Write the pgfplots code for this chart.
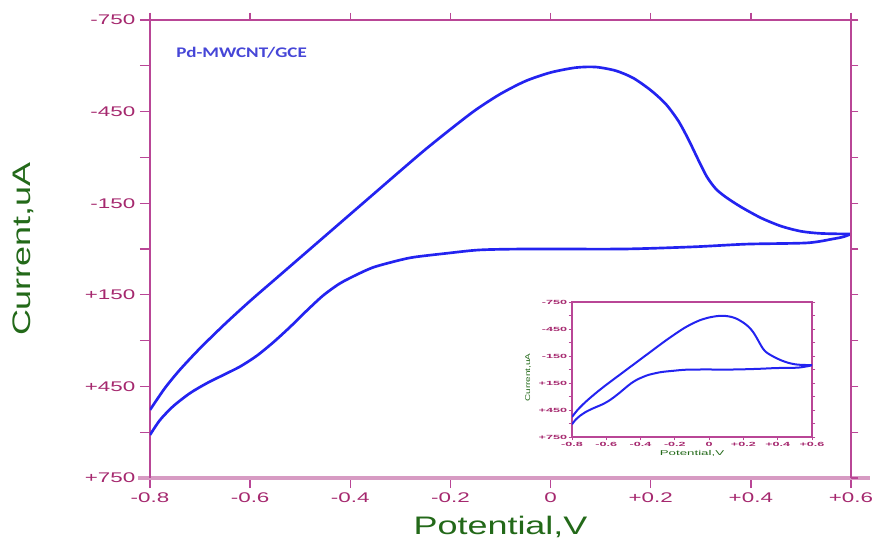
\documentclass[border=0pt]{standalone}
\usepackage{fontspec}
\setmainfont{Liberation Sans}
\newfontfamily\labfont[FakeStretch=1.42]{Liberation Sans}
\newfontfamily\titfont[FakeStretch=1.3]{Carlito}
\usepackage{graphicx}
\usepackage{pgfplots}
\usepackage{pgfplotstable}
\pgfplotsset{compat=1.18}
\newcommand\tk[1]{\scalebox{1.6}[1]{#1}}
\newcommand\itk[1]{\scalebox{2.1}[1]{#1}}
\definecolor{axcol}{RGB}{185,70,150}
\definecolor{bandcol}{RGB}{215,155,195}
\definecolor{tickcol}{RGB}{165,40,110}
\definecolor{labcol}{RGB}{35,105,25}
\definecolor{curvecol}{RGB}{35,35,240}
\definecolor{titcol}{RGB}{70,70,215}

\pgfplotstableread{
V I
-0.800 527
-0.770 455
-0.740 395
-0.700 325
-0.650 245
-0.600 170
-0.550 99
-0.500 28
-0.450 -43
-0.400 -114
-0.350 -185
-0.300 -256
-0.250 -326
-0.200 -392
-0.150 -455
-0.100 -508
-0.050 -550
0.000 -578
0.050 -594
0.090 -596
0.130 -584
0.165 -560
0.200 -520
0.230 -475
0.255 -420
0.275 -360
0.295 -292
0.312 -237
0.330 -197
0.350 -170
0.380 -138
0.420 -102
0.460 -75
0.500 -58
0.540 -51
0.600 -49
}\cvupper

\pgfplotstableread{
V I
0.600 -49
0.585 -40
0.564 -33
0.512 -20
0.392 -16
0.284 -7
0.145 0
-0.047 0
-0.141 3
-0.207 14
-0.274 27
-0.310 40
-0.354 60
-0.387 84
-0.421 113
-0.454 152
-0.487 202
-0.520 255
-0.554 306
-0.587 350
-0.620 385
-0.654 413
-0.687 440
-0.720 472
-0.753 514
-0.780 560
-0.800 609
}\cvlower

\begin{document}
\begin{tikzpicture}
% main axis
\begin{axis}[
  at={(0,0)}, anchor=south west,
  scale only axis, width=525.75pt, height=343.5pt,
  xmin=-0.8, xmax=0.6, ymin=-750, ymax=750, y dir=reverse,
  axis x line*=bottom, axis y line*=left,
  x axis line style={bandcol, line width=3pt, shorten <=-9pt, shorten >=-14pt},
  y axis line style={axcol, line width=1.1pt},
  xtick={-0.8,-0.6,-0.4,-0.2,0,0.2,0.4,0.6},
  xticklabels={\tk{-0.8},\tk{-0.6},\tk{-0.4},\tk{-0.2},\tk{0},\tk{+0.2},\tk{+0.4},\tk{+0.6}},
  ytick={-750,-600,-450,-300,-150,0,150,300,450,600,750},
  yticklabels={\tk{-750},,\tk{-450},,\tk{-150},,\tk{+150},,\tk{+450},,\tk{+750}},
  tick align=outside, major tick length=7.5pt,
  tick style={axcol, line width=1pt},
  ticklabel style={font=\fontsize{10.5}{12}\selectfont, text=tickcol},
  xlabel={Potential,V}, ylabel={Current,uA},
  label style={font=\labfont\fontsize{19}{22}\selectfont, text=labcol},
  x label style={at={(axis description cs:0.5,-0.107)}, anchor=center},
  y label style={at={(axis description cs:-0.181,0.5)}, anchor=center},
]
\addplot[curvecol, line width=2pt, smooth, tension=0.45] table[x=V,y=I] {\cvupper};
\addplot[curvecol, line width=2pt, smooth, tension=0.45] table[x=V,y=I] {\cvlower};
\node[anchor=west, font=\titfont\bfseries\fontsize{11}{13}\selectfont, text=titcol] at (axis description cs:0.031,0.928) {Pd-MWCNT/GCE};
\end{axis}
% top and right frame
\begin{axis}[
  at={(0,0)}, anchor=south west,
  scale only axis, width=525.75pt, height=343.5pt,
  xmin=-0.8, xmax=0.6, ymin=-750, ymax=750, y dir=reverse,
  axis x line*=top, axis y line*=right,
  axis line style={axcol, line width=1.1pt},
  xtick={-0.8,-0.6,-0.4,-0.2,0,0.2,0.4,0.6},
  ytick={-750,-600,-450,-300,-150,0,150,300,450,600,750},
  xticklabels={}, yticklabels={},
  tick align=outside, major tick length=5.5pt,
  tick style={axcol, line width=1pt},
]
\end{axis}
% inset
\begin{axis}[
  at={(316.5pt,30.75pt)}, anchor=south west,
  scale only axis, width=180pt, height=101.25pt,
  xmin=-0.8, xmax=0.6, ymin=-750, ymax=750, y dir=reverse,
  axis line style={axcol, line width=0.9pt},
  xtick={-0.8,-0.6,-0.4,-0.2,0,0.2,0.4,0.6},
  xticklabels={\itk{-0.8},\itk{-0.6},\itk{-0.4},\itk{-0.2},\itk{0},\itk{+0.2},\itk{+0.4},\itk{+0.6}},
  ytick={-750,-600,-450,-300,-150,0,150,300,450,600,750},
  yticklabels={\itk{-750},,\itk{-450},,\itk{-150},,\itk{+150},,\itk{+450},,\itk{+750}},
  xtick pos=left, ytick pos=both,
  tick align=outside, major tick length=2.5pt,
  tick style={axcol, line width=0.6pt},
  ticklabel style={font=\bfseries\fontsize{4.5}{5}\selectfont, text=tickcol, inner sep=1pt},
  xlabel={\scalebox{1.9}[1]{Potential,V}}, ylabel={Current,uA},
  label style={font=\fontsize{5.25}{6}\selectfont, text=labcol},
  x label style={at={(axis description cs:0.5,-0.12)}, anchor=center},
  y label style={font=\labfont\fontsize{5.25}{6}\selectfont, at={(axis description cs:-0.183,0.44)}, anchor=center},
]
\addplot[curvecol, line width=1.5pt, smooth, tension=0.45] table[x=V,y=I] {\cvupper};
\addplot[curvecol, line width=1.5pt, smooth, tension=0.45] table[x=V,y=I] {\cvlower};
\end{axis}
\pgfresetboundingbox
\path[use as bounding box] (-112.5pt,-48.75pt) rectangle (544.5pt,358.5pt);
\end{tikzpicture}
\end{document}
